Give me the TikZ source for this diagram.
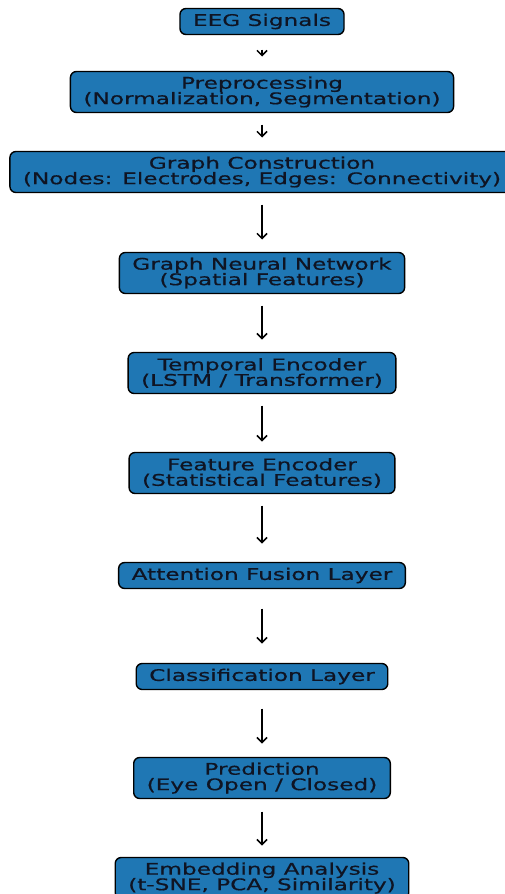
\documentclass[tikz,border=0pt]{standalone}
\usepackage{fontspec}
\setmainfont[FakeStretch=1.45,FakeBold=0.6]{DejaVu Sans}
\usetikzlibrary{arrows.meta,positioning}
\definecolor{tabblue}{RGB}{31,119,180}
\definecolor{inkdark}{RGB}{15,20,35}
\tikzset{
  flow/.style={-{Straight Barb[length=5pt,width=10pt]},line width=1.5pt,draw=black},
  box/.style={rounded corners=6pt,draw=black,line width=1.4pt,fill=tabblue,
              align=center,inner xsep=13pt,inner ysep=0pt,outer sep=0pt,
              minimum height=41pt,text=inkdark,
              font=\fontsize{16}{15.5}\selectfont},
  slimbox/.style={box,minimum height=26pt}
}

\begin{document}
\begin{tikzpicture}[x=1pt,y=1pt]
  \clip (0,0) rectangle (505,-894);
  \node[slimbox] (eeg) at (262,-21.5) {EEG Signals};
  \node[box,below=37pt of eeg] (prep) {Preprocessing\\(Normalization, Segmentation)};
  \node[box,below=39pt of prep] (graph) {Graph Construction\\(Nodes: Electrodes, Edges: Connectivity)};
  \node[box,below=60pt of graph] (gnn) {Graph Neural Network\\(Spatial Features)};
  \node[box,below=59pt of gnn] (temporal) {Temporal Encoder\\(LSTM / Transformer)};
  \node[box,below=59pt of temporal] (feature) {Feature Encoder\\(Statistical Features)};
  \node[slimbox,below=69pt of feature] (fusion) {Attention Fusion Layer};
  \node[slimbox,below=75pt of fusion] (classif) {Classification Layer};
  \node[box,below=68pt of classif] (pred) {Prediction\\(Eye Open / Closed)};
  \node[box,below=59pt of pred] (embed) {Embedding Analysis\\(t-SNE, PCA, Similarity)};
  \draw[flow,shorten <=15pt,shorten >=15pt] (eeg) -- (prep);
  \draw[flow,shorten <=12pt,shorten >=14pt] (prep) -- (graph);
  \draw[flow,shorten <=12pt,shorten >=13pt] (graph) -- (gnn);
  \draw[flow,shorten <=12pt,shorten >=13pt] (gnn) -- (temporal);
  \draw[flow,shorten <=12pt,shorten >=11pt] (temporal) -- (feature);
  \draw[flow,shorten <=12pt,shorten >=19pt] (feature) -- (fusion);
  \draw[flow,shorten <=20pt,shorten >=20pt] (fusion) -- (classif);
  \draw[flow,shorten <=19pt,shorten >=14pt] (classif) -- (pred);
  \draw[flow,shorten <=13pt,shorten >=12pt] (pred) -- (embed);
\end{tikzpicture}
\end{document}
